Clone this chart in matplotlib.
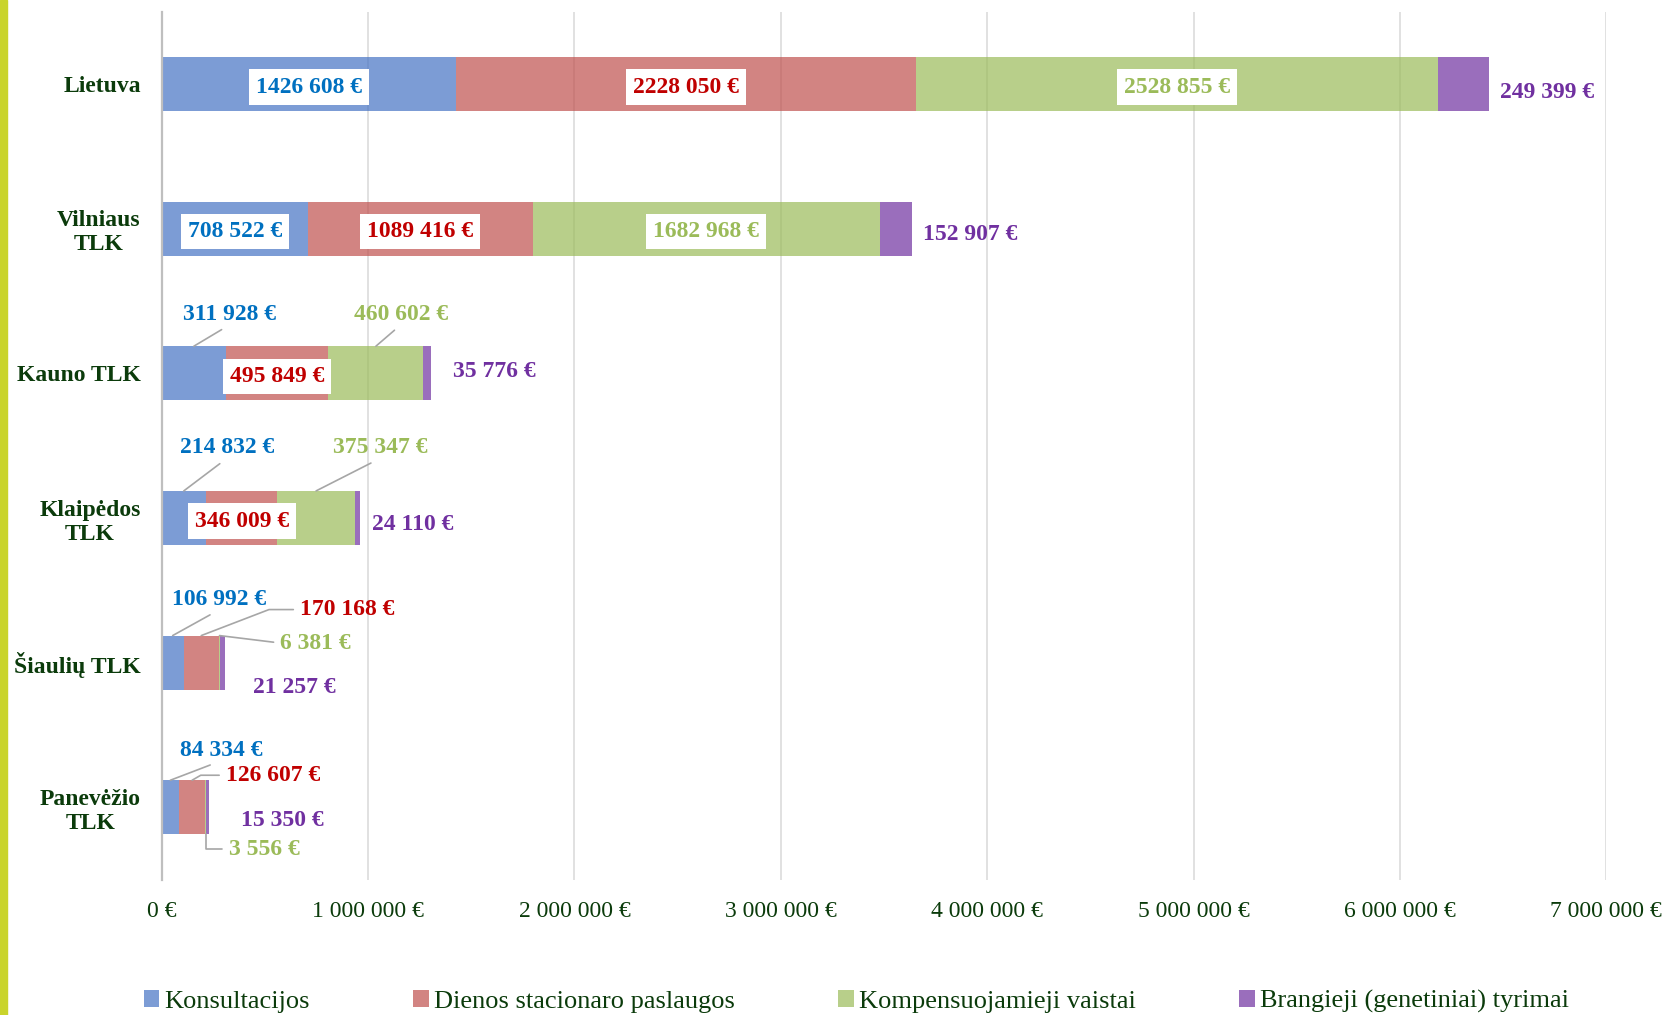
import matplotlib
matplotlib.use("Agg")
import matplotlib.pyplot as plt
from matplotlib.patches import Rectangle
import numpy as np

# duomenys
regions = ['Lietuva', 'Vilniaus\nTLK', 'Kauno TLK', 'Klaipėdos\nTLK', 'Šiaulių TLK', 'Panevėžio\nTLK']
konsultacijos = [1426608, 708522, 311928, 214832, 106992, 84334]
dienos = [2228050, 1089416, 495849, 346009, 170168, 126607]
vaistai = [2528855, 1682968, 460602, 375347, 6381, 3556]
tyrimai = [249399, 152907, 35776, 24110, 21257, 15350]
series_names = ['Konsultacijos', 'Dienos stacionaro paslaugos',
                'Kompensuojamieji vaistai', 'Brangieji (genetiniai) tyrimai']
x_ticks = [0, 1000000, 2000000, 3000000, 4000000, 5000000, 6000000, 7000000]

bar_colors = ['#4472C4', '#C0504D', '#9BBB59', '#7030A0']
text_colors = ['#0070C0', '#C00000', '#9BBB59', '#7030A0']
dark_green = '#0B3B0B'
leader_color = '#A6A6A6'
bar_h = 0.375
text_shift = -3  # teksto centras siek tiek zemiau

# kaip deti etiketes: 'box' - baltame langelyje segmento viduryje,
# kitaip (kur, dx, dy, ha, jungtis, relpos) pikseliais nuo tasko
callouts = {
    (0, 3): ('end', 11, -5, 'left', None, None),
    (1, 3): ('end', 11, -3, 'left', None, None),
    (2, 0): ('top', 36, 35, 'center', 'arc3', (0.5, 0)),
    (2, 2): ('top', 25, 35, 'center', 'arc3', (0.5, 0)),
    (2, 3): ('end', 22, 5, 'left', None, None),
    (3, 0): ('top', 43, 46, 'center', 'arc3', (0.5, 0)),
    (3, 2): ('top', 64, 46, 'center', 'arc3', (0.5, 0)),
    (3, 3): ('end', 12, -3, 'left', None, None),
    (4, 0): ('top', 46, 39, 'center', 'arc3', (0.5, 0)),
    (4, 1): ('top', 99, 29, 'left', 'angle,angleA=0,angleB=21,rad=0', (0, 0.5)),
    (4, 2): ('top', 61, -5, 'left', 'angle,angleA=0,angleB=-7,rad=0', (0, 0.5)),
    (4, 3): ('end', 28, -22, 'left', None, None),
    (5, 0): ('top', 51, 33, 'center', 'arc3', (0.5, 0)),
    (5, 1): ('top', 34, 8, 'left', 'angle,angleA=0,angleB=30,rad=0', (0, 0.5)),
    (5, 2): ('bottom', 23, -12, 'left', 'angle,angleA=0,angleB=90,rad=0', (0, 0.5)),
    (5, 3): ('end', 32, -10, 'left', None, None),
}


def euro(v):
    return f"{v // 1000} {v % 1000:03d} €"


def tick_euro(v):
    return f"{int(v):,}".replace(',', ' ') + " €"


plt.rcParams['font.family'] = ['Liberation Serif', 'DejaVu Serif']

fig = plt.figure(figsize=(16.68, 10.15), dpi=100)
ax = fig.add_axes([0.0969, 0.1333, 0.8661, 0.8552])

values = [konsultacijos, dienos, vaistai, tyrimai]
y = np.arange(len(regions))
left = np.zeros(len(regions))
lefts = []
for vals, name, col in zip(values, series_names, bar_colors):
    ax.barh(y, vals, left=left, height=bar_h, color=col, alpha=0.7, label=name, zorder=2)
    lefts.append(left.copy())
    left = left + np.array(vals)
totals = left

for i in range(len(regions)):
    for s in range(4):
        v = values[s][i]
        mid = lefts[s][i] + v / 2
        txt = euro(v)
        spec = callouts.get((i, s), 'box')
        if spec == 'box':
            ax.annotate(txt, xy=(mid, i), xytext=(0, text_shift), textcoords='offset pixels',
                        ha='center', va='center', color=text_colors[s],
                        fontsize=17, fontweight='bold', zorder=5,
                        bbox=dict(boxstyle='square,pad=0.3', fc='white', ec='none'))
            continue
        where, dx, dy, ha, conn, relpos = spec
        if where == 'end':
            xy = (totals[i], i)
        elif where == 'top':
            xy = (mid, i - bar_h / 2)
        else:
            xy = (mid, i + bar_h / 2)
        arrow = None
        if conn is not None:
            arrow = dict(arrowstyle='-', color=leader_color, lw=1.2, shrinkA=3, shrinkB=0,
                         connectionstyle=conn, relpos=relpos)
        ax.annotate(txt, xy=xy, xytext=(dx, dy + text_shift), textcoords='offset pixels',
                    ha=ha, va='center', color=text_colors[s], fontsize=17,
                    fontweight='bold', arrowprops=arrow, zorder=5)

ax.set_xlim(0, 7000000)
ax.set_ylim(len(regions) - 0.5, -0.5)
ax.set_xticks(x_ticks, [tick_euro(v) for v in x_ticks])
ax.set_yticks(y, regions)
ax.tick_params(axis='x', length=0, pad=15, labelsize=17, labelcolor=dark_green)
ax.tick_params(axis='y', length=0, pad=15, labelsize=17, labelcolor=dark_green)
for lab in ax.get_yticklabels():
    lab.set_fontweight('bold')
    lab.set_multialignment('center')
    lab.set_linespacing(1.2)

ax.xaxis.grid(True, color='#DEDEDE', lw=1.3, zorder=0)
ax.set_axisbelow(True)
for side in ['top', 'right', 'bottom']:
    ax.spines[side].set_visible(False)
ax.spines['left'].set_color('#BFBFBF')
ax.spines['left'].set_linewidth(1.6)

fig.legend(loc='center', bbox_to_anchor=(143.6 / 1668, 0.003, (1569 - 143.6) / 1668, 0.02),
           mode='expand', ncol=4, frameon=False, fontsize=19, handlelength=0.6,
           handleheight=0.6, handletextpad=0.2, borderpad=0, borderaxespad=0,
           labelcolor=dark_green)

# geltonai zalia juosta kaireje
fig.add_artist(Rectangle((0, 0), 7 / 1668, 1, transform=fig.transFigure,
                         color='#C9D42C', zorder=0))

plt.savefig('out.png', dpi=100)
